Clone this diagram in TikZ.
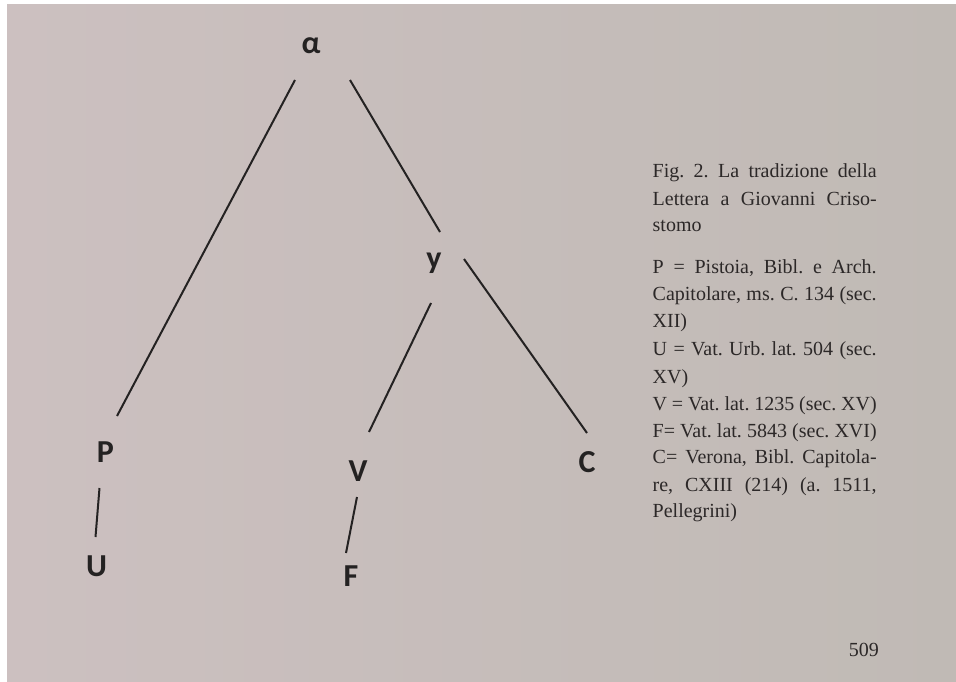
\documentclass[tikz,border=0pt]{standalone}
\usepackage{fontspec}
\setmainfont{Liberation Serif}
\newfontfamily\stemfont{Carlito}
\frenchspacing
\definecolor{pageL}{RGB}{204,192,192}
\definecolor{pageR}{RGB}{192,186,181}
\definecolor{ink}{RGB}{36,34,34}
\definecolor{capink}{RGB}{44,40,40}
\tikzset{
  sigl/.style={inner sep=0pt, text=ink, font=\stemfont\fontsize{32}{32}\selectfont\bfseries},
  branch/.style={draw=ink, line width=2pt},
  capline/.style={anchor=base west, inner sep=0pt, text=capink, font=\fontsize{20}{27}\selectfont},
}
\newcommand{\jline}[1]{\makebox[224pt][s]{#1}}
\begin{document}
\begin{tikzpicture}[x=1pt,y=-1pt]
\useasboundingbox (0,0) rectangle (956,682);
\fill[white] (0,0) rectangle (956,682);
\shade[left color=pageL, right color=pageR] (7,5) rectangle (956,682);
% stemma
\node[sigl] (alpha) at (311,46) {α};
\node[sigl] (y) at (434,263) {y};
\node[sigl] (P) at (105.5,452) {P};
\node[sigl] (U) at (96.5,566) {U};
\node[sigl] (V) at (358,471) {V};
\node[sigl] (F) at (351,576) {F};
\node[sigl] (C) at (587,462) {C};
\draw[branch] ([shift={(-16,34)}]alpha.center) -- ([shift={(11.5,-36)}]P.center);
\draw[branch] ([shift={(39,34)}]alpha.center) -- ([shift={(6,-31)}]y.center);
\draw[branch] ([shift={(-3,40)}]y.center) -- ([shift={(11,-39)}]V.center);
\draw[branch] ([shift={(30,-4)}]y.center) -- ([shift={(0,-29)}]C.center);
\draw[branch] ([shift={(-6,36)}]P.center) -- ([shift={(-1,-29)}]U.center);
\draw[branch] ([shift={(-1,26)}]V.center) -- ([shift={(-5,-23)}]F.center);
% caption
\node[capline] (c1) at (652.5,178) {\jline{Fig. 2. La tradizione della}};
\node[capline] (c2) at (652.5,205) {\jline{Lettera a Giovanni Criso-}};
\node[capline] (c3) at (652.5,231) {stomo};
\node[capline] (c4) at (652.5,273) {\jline{P = Pistoia, Bibl. e Arch.}};
\node[capline] (c5) at (652.5,300) {\jline{Capitolare, ms. C. 134 (sec.}};
\node[capline] (c6) at (652.5,327) {XII)};
\node[capline] (c7) at (652.5,355) {\jline{U = Vat. Urb. lat. 504 (sec.}};
\node[capline] (c8) at (652.5,383) {XV)};
\node[capline] (c9) at (652.5,410) {\jline{V = Vat. lat. 1235 (sec. XV)}};
\node[capline] (c10) at (652.5,437) {\jline{F= Vat. lat. 5843 (sec. XVI)}};
\node[capline] (c11) at (652.5,463) {\jline{C= Verona, Bibl. Capitola-}};
\node[capline] (c12) at (652.5,491) {\jline{re, CXIII (214) (a. 1511,}};
\node[capline] (c13) at (652.5,517) {Pellegrini)};
\node[capline, anchor=base east] (pg) at (879,656) {509};
\end{tikzpicture}
\end{document}
